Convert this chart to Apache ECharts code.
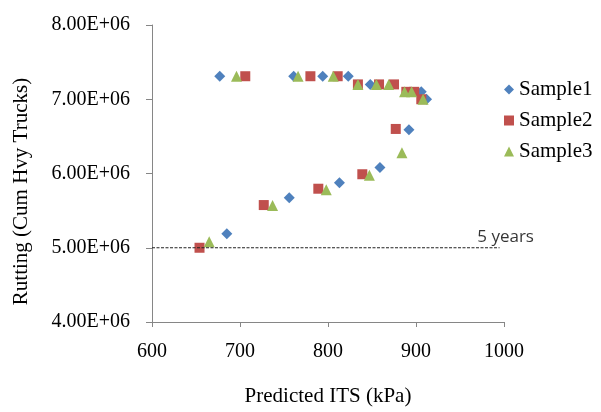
<!DOCTYPE html>
<html>
<head>
<meta charset="utf-8">
<script src="https://cdn.jsdelivr.net/npm/echarts@6/dist/echarts.min.js"></script>
<style>html,body{margin:0;padding:0;background:#fff;}#c{width:601px;height:412px;}</style>
</head>
<body>
<div id="c"></div>
<script>
var sample1 = [[677,7.31e6],[761,7.31e6],[794,7.31e6],[823,7.31e6],[848,7.2e6],[906,7.1e6],[912,7.0e6],[892,6.59e6],[859,6.08e6],[813,5.875e6],[756,5.675e6],[685,5.19e6]];
var sample2 = [[706,7.31e6],[780,7.31e6],[811,7.31e6],[834,7.2e6],[858,7.2e6],[875,7.2e6],[889,7.1e6],[898,7.1e6],[906,7.0e6],[877,6.6e6],[839,5.99e6],[789,5.795e6],[727,5.575e6],[654,5.0e6]];
var sample3 = [[696,7.31e6],[766,7.31e6],[806,7.31e6],[834,7.2e6],[855,7.2e6],[869,7.2e6],[887,7.1e6],[895,7.1e6],[908,7.0e6],[884,6.28e6],[847,5.975e6],[798,5.78e6],[737,5.57e6],[665,5.08e6]];
var limitLine = [[600,5.0e6],[995,5.0e6]];
var limitLabel = '5 years';
var seriesNames = ['Sample1','Sample2','Sample3'];
var xTicks = [600,700,800,900,1000];
var yTicks = [4e6,5e6,6e6,7e6,8e6];

var serif = '"Liberation Serif","DejaVu Serif",serif';
var chart = echarts.init(document.getElementById('c'));
chart.setOption({
  animation:false,
  backgroundColor:'#fff',
  grid:{left:152,top:25,width:352,height:298},
  legend:{
    data:[{name:seriesNames[0],icon:'diamond'},{name:seriesNames[1],icon:'rect'},{name:seriesNames[2],icon:'triangle'}],
    orient:'vertical', left:499, top:74, itemWidth:10, itemHeight:10, itemGap:10,
    textStyle:{fontFamily:serif,fontSize:21,color:'#000'}
  },
  xAxis:{
    type:'value', min:xTicks[0], max:xTicks[xTicks.length-1], interval:100,
    name:'Predicted ITS (kPa)', nameLocation:'middle', nameGap:64,
    nameTextStyle:{fontFamily:serif,fontSize:21,color:'#000'},
    axisLine:{show:true,lineStyle:{color:'#868686'}},
    axisTick:{show:true,length:5,lineStyle:{color:'#868686'}},
    axisLabel:{fontFamily:serif,fontSize:20,color:'#000',margin:20,formatter:function(v){return String(v);}},
    splitLine:{show:false}
  },
  yAxis:{
    type:'value', min:yTicks[0], max:yTicks[yTicks.length-1], interval:1e6,
    name:'Rutting (Cum Hvy Trucks)', nameLocation:'middle', nameGap:120,
    nameTextStyle:{fontFamily:serif,fontSize:21,color:'#000',padding:[0,36,0,0]},
    axisLine:{show:true,lineStyle:{color:'#868686'}},
    axisTick:{show:true,length:6,lineStyle:{color:'#868686'}},
    axisLabel:{fontFamily:serif,fontSize:20,color:'#000',margin:22,
      formatter:function(v){return (v/1e6).toFixed(2)+'E+06';}},
    splitLine:{show:false}
  },
  series:[
    {name:'limit',type:'line',data:limitLine,symbol:'none',silent:true,
     lineStyle:{color:'#222',width:1,type:[3,1.5]}},
    {name:seriesNames[0],type:'scatter',data:sample1,symbol:'diamond',symbolSize:11,itemStyle:{color:'#4F81BD',opacity:1}},
    {name:seriesNames[1],type:'scatter',data:sample2,symbol:'rect',symbolSize:10,itemStyle:{color:'#C0504D',opacity:1}},
    {name:seriesNames[2],type:'scatter',data:sample3,symbol:'triangle',symbolSize:11,itemStyle:{color:'#9BBB59',opacity:1}},
    {name:'limitLabel',type:'scatter',data:[{value:limitLine[1],label:{show:true,formatter:limitLabel,position:'top',distance:2,offset:[6,0],
      fontFamily:'"Open Sans"',fontSize:17,color:'#000'}}],symbolSize:0,silent:true}
  ]
});
</script>
</body>
</html>
